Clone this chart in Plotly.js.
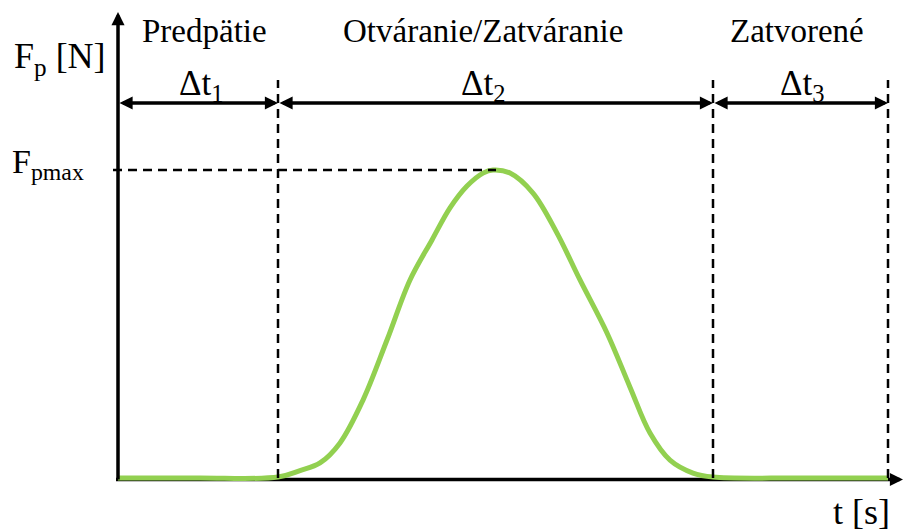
<!DOCTYPE html>
<html>
<head>
<meta charset="utf-8">
<script src="https://cdn.plot.ly/plotly-3.0.1.min.js"></script>
<style>html,body{margin:0;padding:0;background:#fff}#chart{width:904px;height:532px}</style>
</head>
<body>
<div id="chart"></div>
<script>
// ---- data ----
const tValues = [0, 0.8, 1.60, 1.82, 2.02, 2.22, 2.45, 2.69, 2.92, 3.14, 3.32, 3.49, 3.65, 3.75, 3.92, 4.15, 4.39, 4.62, 4.89, 5.12, 5.32, 5.52, 5.75, 5.95, 6.8, 7.70];
const fValues = [0, 0, 0.003, 0.024, 0.049, 0.114, 0.253, 0.448, 0.643, 0.773, 0.877, 0.948, 0.990, 1.0, 0.99, 0.925, 0.795, 0.643, 0.471, 0.295, 0.146, 0.058, 0.016, 0.003, 0, 0];
const phaseBounds = [0, 1.60, 5.95, 7.70];
const phaseNames = ['Predpätie', 'Otváranie/Zatváranie', 'Zatvorené'];
const phaseLabels = ['Δt<sub>1</sub>', 'Δt<sub>2</sub>', 'Δt<sub>3</sub>'];
const fMax = 1.0;
const tPeak = 3.78;
const yAxisLabel = 'F<sub>p</sub> [N]';
const xAxisLabel = 't [s]';
const fMaxLabel = 'F<sub>pmax</sub>';

// ---- layout helpers ----
const W = 904, H = 532;
const px = x => x / W;
const py = y => 1 - y / H;
const FONT = "Liberation Serif";
const arrowLevel = 1.2175;
const dashTop = 1.292;

const trace = {
  x: tValues, y: fValues, type: 'scatter', mode: 'lines',
  line: {color: '#92D050', width: 5, shape: 'spline', smoothing: 1},
  hoverinfo: 'skip', showlegend: false
};

const shapes = [];
shapes.push({type: 'line', layer: 'below', xref: 'x', yref: 'y', x0: -0.02, x1: 7.72, y0: -0.005, y1: -0.005,
  line: {color: '#000', width: 3.5}});
phaseBounds.slice(1).forEach(b => {
  shapes.push({type: 'line', layer: 'above', xref: 'x', yref: 'y', x0: b, x1: b, y0: 0, y1: dashTop,
    line: {color: '#000', width: 2.5, dash: '9px,6px'}});
});
shapes.push({type: 'line', layer: 'above', xref: 'x', yref: 'y', x0: -0.05, x1: tPeak, y0: fMax, y1: fMax,
  line: {color: '#000', width: 2.5, dash: '9px,6px'}});

const annotations = [];
annotations.push({xref: 'x', yref: 'y', axref: 'x', ayref: 'y', x: 0, y: 1.513, ax: 0, ay: -0.01,
  text: '', showarrow: true, arrowhead: 2, arrowsize: 0.75, arrowwidth: 3.5, arrowcolor: '#000', standoff: 0});
annotations.push({xref: 'x', yref: 'y', axref: 'x', ayref: 'y', x: 7.85, y: -0.005, ax: 7.71, ay: -0.005,
  text: '', showarrow: true, arrowhead: 2, arrowsize: 0.75, arrowwidth: 3.5, arrowcolor: '#000', standoff: 0});
for (let i = 0; i < 3; i++) {
  annotations.push({xref: 'x', yref: 'y', axref: 'x', ayref: 'y',
    x: phaseBounds[i + 1], y: arrowLevel, ax: phaseBounds[i], ay: arrowLevel,
    text: '', showarrow: true, arrowside: 'end+start', arrowhead: 2, startarrowhead: 2,
    arrowsize: 0.75, startarrowsize: 0.75, arrowwidth: 3.5, arrowcolor: '#000', standoff: 0, startstandoff: 0});
}
const nameX = [204, 483, 797];
const labelX = [201, 483, 802];
for (let i = 0; i < 3; i++) {
  annotations.push({xref: 'paper', yref: 'paper', x: px(nameX[i]), y: py(31), xanchor: 'center', yanchor: 'middle',
    text: phaseNames[i], showarrow: false, font: {family: FONT, size: 33, color: '#000'}});
  annotations.push({xref: 'paper', yref: 'paper', x: px(labelX[i]), y: py(85), xanchor: 'center', yanchor: 'middle',
    text: phaseLabels[i], showarrow: false, font: {family: FONT, size: 35, color: '#000'}});
}
annotations.push({xref: 'paper', yref: 'paper', x: px(12), y: py(58), xanchor: 'left', yanchor: 'middle',
  text: yAxisLabel, showarrow: false, font: {family: FONT, size: 36, color: '#000'}});
annotations.push({xref: 'paper', yref: 'paper', x: px(10), y: py(164), xanchor: 'left', yanchor: 'middle',
  text: fMaxLabel, showarrow: false, font: {family: FONT, size: 34, color: '#000'}});
annotations.push({xref: 'paper', yref: 'paper', x: px(861), y: py(512), xanchor: 'center', yanchor: 'middle',
  text: xAxisLabel, showarrow: false, font: {family: FONT, size: 36, color: '#000'}});

const layout = {
  width: W, height: H, margin: {l: 0, r: 0, t: 0, b: 0},
  paper_bgcolor: '#fff', plot_bgcolor: '#fff',
  font: {family: FONT},
  xaxis: {range: [-1.18, 7.86], visible: false, fixedrange: true},
  yaxis: {range: [-0.1753, 1.552], visible: false, fixedrange: true},
  shapes: shapes, annotations: annotations, showlegend: false
};

Plotly.newPlot('chart', [trace], layout, {staticPlot: true, displayModeBar: false});
</script>
</body>
</html>
